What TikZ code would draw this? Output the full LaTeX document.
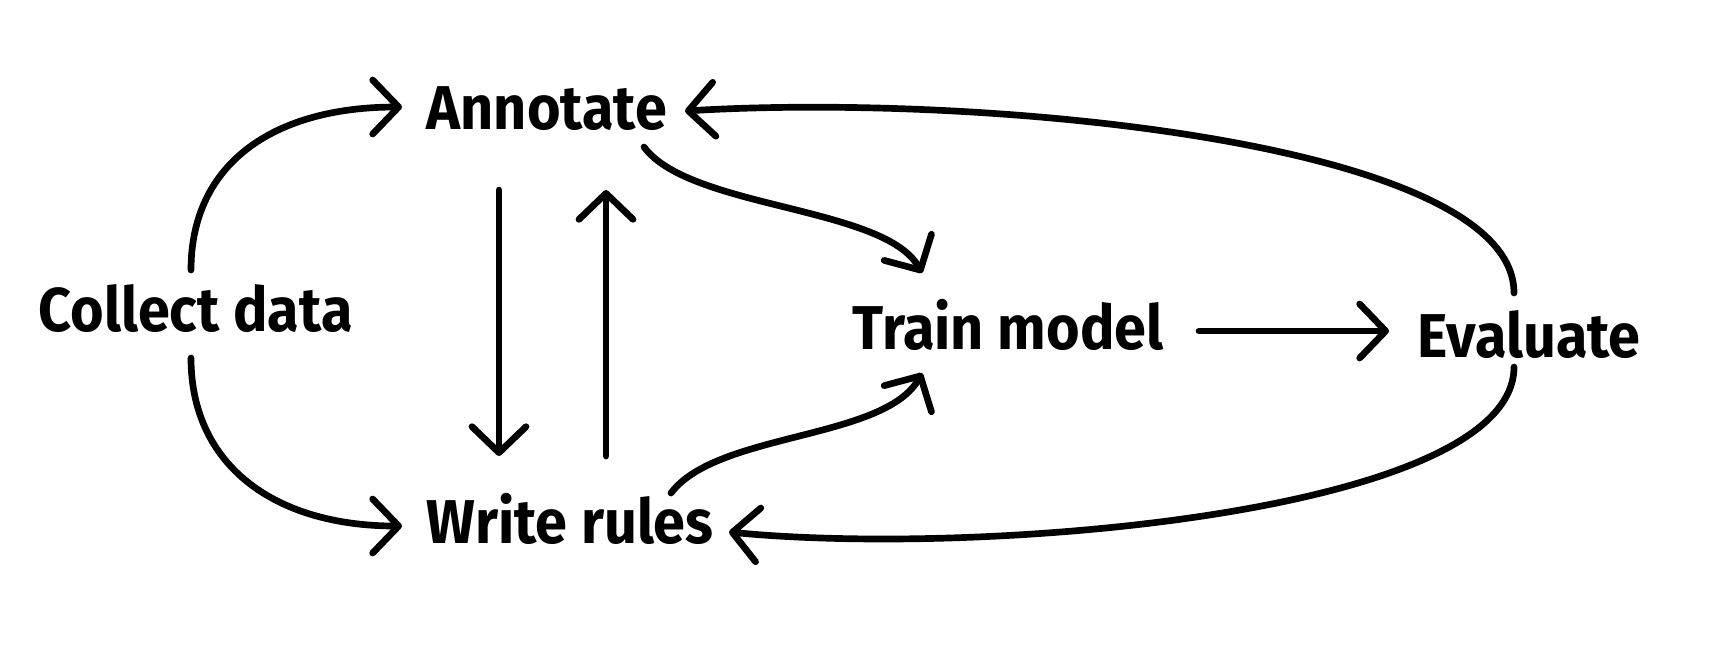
\documentclass[tikz,border=0pt]{standalone}
\usepackage{fontspec}
\setmainfont{Fira Sans}[FakeStretch=0.93]
\usetikzlibrary{arrows.meta}
\begin{document}
\begin{tikzpicture}[x=0.01cm,y=-0.01cm,
  lab/.style={font=\fontsize{17.6}{20}\selectfont\bfseries, anchor=base west, inner sep=0pt},
  conn/.style={line width=1.9pt, line cap=round, -{Straight Barb[length=2.6mm,width=5.4mm,round]}}]
\useasboundingbox (0,0) rectangle (1712,656);
\node[lab] (collect) at (38,331) {Collect data};
\node[lab] (annot) at (426,129) {Annotate};
\node[lab] (write) at (426,543) {Write rules};
\node[lab] (train) at (852,349) {Train model};
\node[lab] (eval) at (1417,357) {Evaluate};
% 1
\draw[conn] ([shift={(153,-61)}]collect.base west) .. controls (191,164) and (273,107) .. ([shift={(-24,-22)}]annot.base west);
% 2
\draw[conn] ([shift={(153,27)}]collect.base west) .. controls (191,464) and (273,526) .. ([shift={(-24,-17)}]write.base west);
% 3
\draw[conn] ([shift={(73,61)}]annot.base west) -- ([shift={(73,-87)}]write.base west);
% 4
\draw[conn] ([shift={(180,-87)}]write.base west) -- ([shift={(180,61)}]annot.base west);
% 5
\draw[conn] ([shift={(218,18)}]annot.base west) .. controls (690,209) and (885,206) .. ([shift={(70,-76)}]train.base west);
% 6
\draw[conn] ([shift={(245,-50)}]write.base west) .. controls (717,432) and (885,440) .. ([shift={(70,24)}]train.base west);
% 7
\draw[conn] ([shift={(347,-18)}]train.base west) -- ([shift={(-28,-26)}]eval.base west);
% 8
\draw[conn] ([shift={(97,-64)}]eval.base west) .. controls (1514,142) and (983,93) .. ([shift={(259,-18)}]annot.base west);
% 9
\draw[conn] ([shift={(97,10)}]eval.base west) .. controls (1514,513) and (983,557) .. ([shift={(303,-11)}]write.base west);
\end{tikzpicture}
\end{document}
